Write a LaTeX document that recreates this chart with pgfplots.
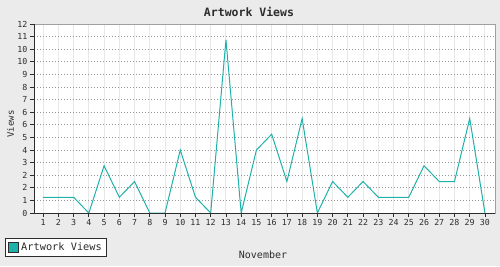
\documentclass[border=0pt]{standalone}
\usepackage{fontspec}
\setmainfont{DejaVu Sans Mono}
\usepackage{pgfplots}
\pgfplotsset{compat=1.18}
\definecolor{bgc}{RGB}{235,235,235}
\definecolor{teall}{RGB}{32,178,170}
\definecolor{vgrid}{RGB}{232,232,232}
\definecolor{hgrid}{RGB}{150,150,150}
\definecolor{bord}{RGB}{160,160,160}
\definecolor{axc}{RGB}{45,45,45}
\begin{document}
\begin{tikzpicture}[x=1pt,y=1pt]
\fill[bgc] (0,0) rectangle (500,266);
\begin{axis}[
  at={(34pt,53pt)}, anchor=south west,
  scale only axis, width=461pt, height=189pt,
  xmin=0.4, xmax=30.66, ymin=0, ymax=12,
  axis background/.style={fill=white},
  axis line style={draw=bord, line width=1pt},
  xtick={1,...,30},
  ytick={0,0.8,1.6,2.4,3.2,4,4.8,5.6,6.4,7.2,8,8.8,9.6,10.4,11.2,12},
  yticklabels={0,1,2,2,3,4,5,6,6,7,8,9,10,10,11,12},
  xtick pos=left, ytick pos=left, tick align=outside,
  major tick length=4pt,
  tick style={draw=axc, line width=0.8pt},
  x tick label style={font=\fontsize{8.3}{8.3}\selectfont, text=axc, yshift=1pt},
  y tick label style={font=\fontsize{8.3}{8.3}\selectfont, text=axc, xshift=1pt},
  /pgf/number format/assume math mode=true,
  xmajorgrids, ymajorgrids,
  x grid style={draw=vgrid, line width=1pt},
  y grid style={draw=hgrid, line width=0.8pt, dash pattern=on 1pt off 2pt},
  legend style={at={(-0.0629,-0.231)}, anchor=south west, draw=axc, line width=0.8pt,
    fill=white, font=\fontsize{10.3}{10.3}\selectfont, inner xsep=3pt, inner ysep=2.5pt,
    text=axc},
  legend cell align=left,
  clip=false,
]
\addplot[teall, line width=1pt, legend image code/.code={\draw[fill=teall, draw=axc, line width=0.8pt] (0pt,-5pt) rectangle (10pt,5pt);}] coordinates {
(1,1) (2,1) (3,1) (4,0) (5,3) (6,1) (7,2) (8,0) (9,0) (10,4)
(11,1) (12,0) (13,11) (14,0) (15,4) (16,5) (17,2) (18,6) (19,0) (20,2)
(21,1) (22,2) (23,1) (24,1) (25,1) (26,3) (27,2) (28,2) (29,6) (30,0)
};
\addlegendentry{Artwork Views}
\draw[axc, line width=1pt] (rel axis cs:0,1) -- (rel axis cs:0,0) -- (rel axis cs:1,0);
\end{axis}
\node[font=\bfseries\fontsize{11.5}{11.5}\selectfont, text=axc] at (249,254) {Artwork Views};
\node[font=\fontsize{10}{10}\selectfont, text=axc] at (263,11.5) {November};
\node[font=\fontsize{9}{9}\selectfont, text=axc, rotate=90] at (10.5,142) {Views};
\end{tikzpicture}
\end{document}
